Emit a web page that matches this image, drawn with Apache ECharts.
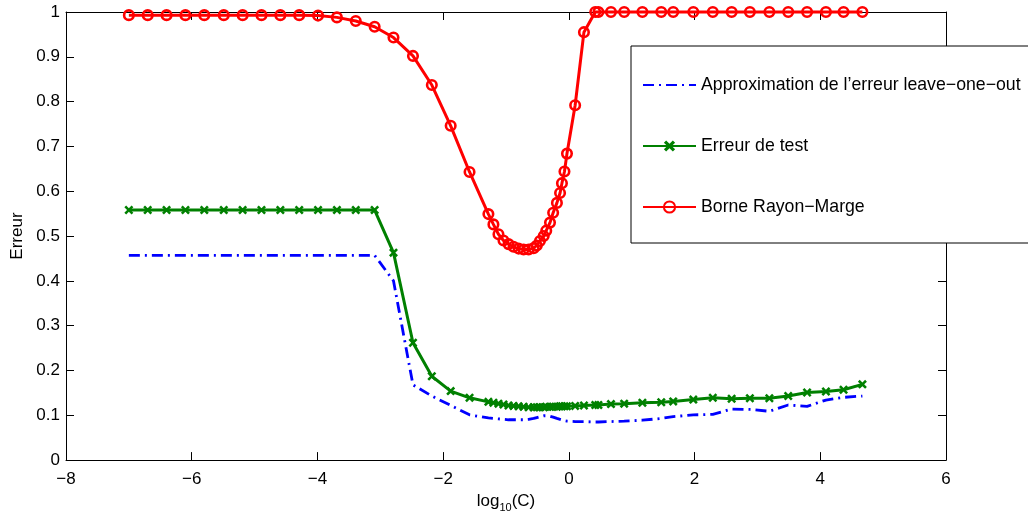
<!DOCTYPE html>
<html>
<head>
<meta charset="utf-8">
<script src="https://cdn.jsdelivr.net/npm/echarts@6/dist/echarts.min.js"></script>
<style>
html,body{margin:0;padding:0;background:#fff;}
#chart{width:1028px;height:518px;}
</style>
</head>
<body>
<div id="chart"></div>
<script>
// log10(C) grid
const xValues = [
  -7.00, -6.70, -6.40, -6.10, -5.80, -5.49, -5.19, -4.89, -4.59, -4.29,
  -3.99, -3.69, -3.39, -3.09, -2.79, -2.48, -2.18, -1.88, -1.58, -1.28,
  -1.20, -1.12, -1.04, -0.96, -0.88, -0.80, -0.72, -0.64, -0.56, -0.51,
  -0.46, -0.40, -0.36, -0.30, -0.25, -0.19, -0.14, -0.11, -0.07, -0.03,
  0.10, 0.24, 0.42,
  0.47, 0.67, 0.88, 1.17, 1.47, 1.66, 1.98, 2.29, 2.59, 2.88,
  3.19, 3.49, 3.79, 4.09, 4.37, 4.67
];
// Approximation de l'erreur leave-one-out
const looValues = [
  0.457, 0.457, 0.457, 0.457, 0.457, 0.457, 0.457, 0.457, 0.457, 0.457,
  0.457, 0.457, 0.457, 0.457, 0.400, 0.168, 0.143, 0.122, 0.101, 0.094,
  0.093, 0.092, 0.091, 0.090, 0.090, 0.090, 0.090, 0.091, 0.093, 0.095,
  0.097, 0.099, 0.099, 0.098, 0.096, 0.093, 0.091, 0.089, 0.088, 0.087,
  0.086, 0.086, 0.085,
  0.085, 0.086, 0.087, 0.089, 0.093, 0.097, 0.101, 0.102, 0.114, 0.113,
  0.109, 0.123, 0.120, 0.134, 0.140, 0.143
];
// Erreur de test
const testValues = [
  0.558, 0.558, 0.558, 0.558, 0.558, 0.558, 0.558, 0.558, 0.558, 0.558,
  0.558, 0.558, 0.558, 0.558, 0.463, 0.262, 0.187, 0.154, 0.139, 0.130,
  0.128, 0.126, 0.124, 0.122, 0.121, 0.120, 0.119, 0.118, 0.118, 0.118,
  0.118, 0.118, 0.119, 0.119, 0.119, 0.119, 0.120, 0.120, 0.120, 0.120,
  0.121, 0.122, 0.123,
  0.123, 0.125, 0.126, 0.128, 0.129, 0.131, 0.135, 0.139, 0.137, 0.138,
  0.138, 0.143, 0.151, 0.153, 0.157, 0.169
];
// Borne Rayon-Marge
const boundValues = [
  0.993, 0.993, 0.993, 0.993, 0.993, 0.993, 0.993, 0.993, 0.993, 0.993,
  0.992, 0.988, 0.980, 0.967, 0.943, 0.902, 0.837, 0.746, 0.643, 0.549,
  0.526, 0.504, 0.490, 0.482, 0.476, 0.472, 0.470, 0.470, 0.473, 0.479,
  0.489, 0.500, 0.512, 0.530, 0.552, 0.574, 0.596, 0.618, 0.644, 0.684,
  0.792, 0.955, 1.000,
  1.000, 1.000, 1.000, 1.000, 1.000, 1.000, 1.000, 1.000, 1.000, 1.000,
  1.000, 1.000, 1.000, 1.000, 1.000, 1.000
];
const seriesNames = [
  'Approximation de l\u2019erreur leave\u2212one\u2212out',
  'Erreur de test',
  'Borne Rayon\u2212Marge'
];
const xTicks = { min: -8, max: 6, interval: 2 };
const yTicks = { min: 0, max: 1, interval: 0.1 };

const FONT = '"Liberation Sans", Arial, Helvetica, sans-serif';
const pairs = vals => xValues.map((x, i) => [x, vals[i]]);
const xSymbol = 'path://M0,2 L2,0 L5,3 L8,0 L10,2 L7,5 L10,8 L8,10 L5,7 L2,10 L0,8 L3,5 Z';

const axisCommon = {
  axisLine: { show: true, onZero: false, lineStyle: { color: '#000', width: 1 } },
  axisTick: { show: true, inside: true, length: 8, lineStyle: { color: '#000', width: 1 } },
  splitLine: { show: false }
};

const chart = echarts.init(document.getElementById('chart'), null, { renderer: 'canvas' });
chart.setOption({
  animation: false,
  backgroundColor: '#fff',
  textStyle: { fontFamily: FONT },
  grid: { left: 66, top: 12, width: 880, height: 454, containLabel: false },
  xAxis: [
    Object.assign({
      type: 'value', position: 'bottom', min: xTicks.min, max: xTicks.max, interval: xTicks.interval,
      axisLabel: {
        color: '#000', fontSize: 17, fontFamily: FONT, margin: 11,
        formatter: v => (v < 0 ? '\u2212' + Math.abs(v) : String(v))
      },
      name: '{a|log}{b|10}{a|(C)}',
      nameLocation: 'middle', nameGap: 25,
      nameTextStyle: {
        color: '#000', fontFamily: FONT,
        rich: {
          a: { fontSize: 17, lineHeight: 20, verticalAlign: 'top', color: '#000', fontFamily: FONT },
          b: { fontSize: 11, lineHeight: 8, verticalAlign: 'bottom', color: '#000', fontFamily: FONT }
        }
      }
    }, axisCommon),
    Object.assign({
      type: 'value', position: 'top', min: xTicks.min, max: xTicks.max, interval: xTicks.interval,
      axisLabel: { show: false }
    }, axisCommon)
  ],
  yAxis: [
    Object.assign({
      type: 'value', position: 'left', min: yTicks.min, max: yTicks.max, interval: yTicks.interval,
      axisLabel: { color: '#000', fontSize: 17, fontFamily: FONT, margin: 6 },
      name: 'Erreur', nameLocation: 'middle', nameGap: 40,
      nameTextStyle: { color: '#000', fontSize: 17, fontFamily: FONT }
    }, axisCommon),
    Object.assign({
      type: 'value', position: 'right', min: yTicks.min, max: yTicks.max, interval: yTicks.interval,
      axisLabel: { show: false }
    }, axisCommon)
  ],
  legend: {
    orient: 'vertical', left: 631, top: 46,
    padding: [30, 30, 27, 11], itemGap: 43, itemWidth: 53, itemHeight: 14,
    backgroundColor: '#fff', borderColor: '#000', borderWidth: 1, borderRadius: 0,
    textStyle: { color: '#000', fontSize: 17.7, fontFamily: FONT },
    data: seriesNames
  },
  series: [
    {
      name: seriesNames[0], type: 'line', data: pairs(looValues),
      showSymbol: false, symbol: 'none', clip: false,
      lineStyle: { color: '#0000ff', width: 2.8, type: [11, 5, 2, 5], cap: 'butt' },
      itemStyle: { color: 'rgba(0,0,255,0)', opacity: 0 }
    },
    {
      name: seriesNames[1], type: 'line', data: pairs(testValues),
      symbol: xSymbol, symbolSize: 9, clip: false,
      lineStyle: { color: '#008000', width: 3 },
      itemStyle: { color: '#008000', borderWidth: 0 }
    },
    {
      name: seriesNames[2], type: 'line', data: pairs(boundValues),
      symbol: 'circle', symbolSize: 9.5, clip: false,
      lineStyle: { color: '#ff0000', width: 3 },
      itemStyle: { color: 'rgba(255,255,255,0)', borderColor: '#ff0000', borderWidth: 2.6 }
    }
  ]
});
</script>
</body>
</html>
